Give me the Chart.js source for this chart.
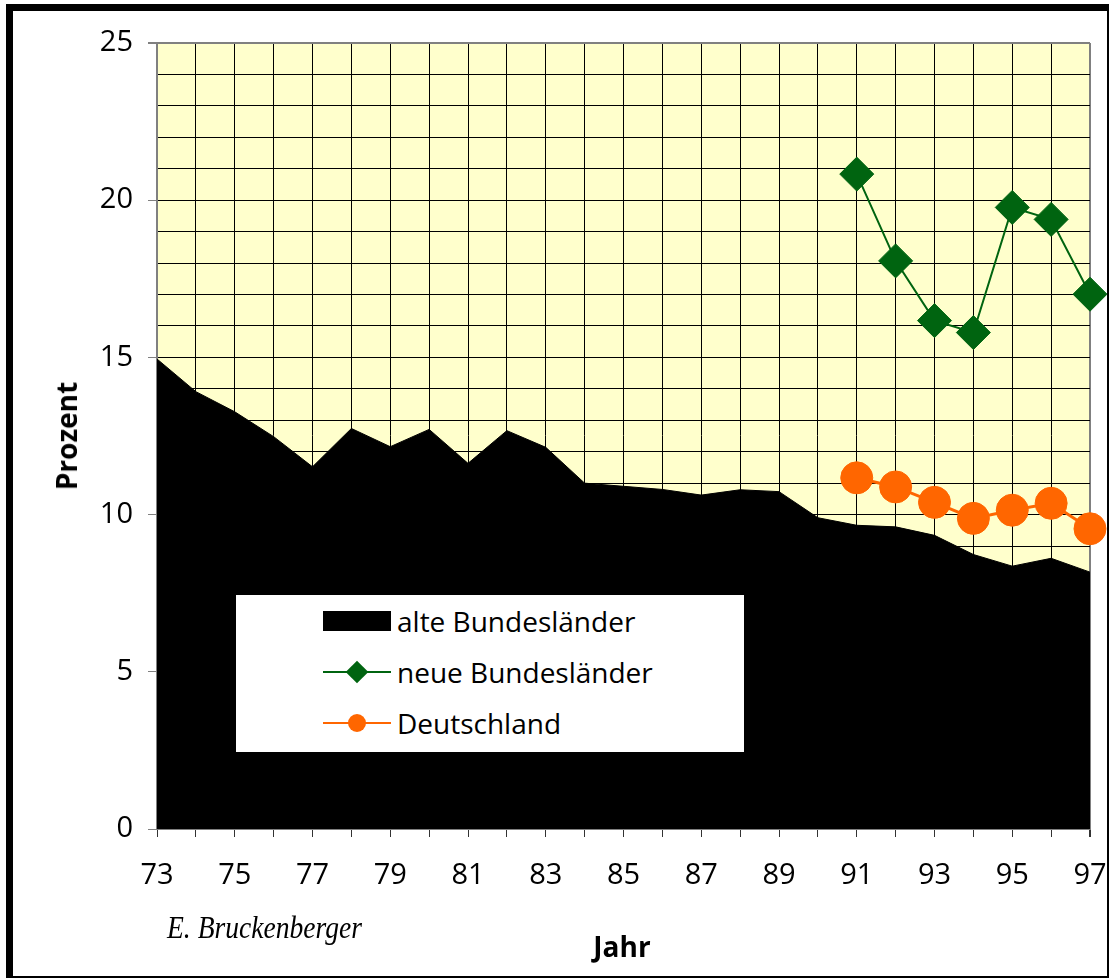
<!DOCTYPE html>
<html>
<head>
<meta charset="utf-8">
<script src="https://cdn.jsdelivr.net/npm/chart.js@4.4.1/dist/chart.umd.min.js"></script>
<style>
html,body{margin:0;padding:0;background:#fff;}
#wrap{position:relative;width:1117px;height:980px;overflow:hidden;font-family:"Open Sans",sans-serif;}
#cbox{position:absolute;left:0;top:0;width:1117px;height:980px;}
#frame{position:absolute;left:6px;top:4px;width:1094px;height:965px;border-left:7px solid #000;border-top:7px solid #000;border-right:2px solid #000;border-bottom:2px solid #000;pointer-events:none;}
.lab{position:absolute;white-space:nowrap;color:#000;line-height:normal;}
#ylab{left:66px;top:436px;font-weight:bold;font-size:28px;transform:translate(-50%,-50%) rotate(-90deg);}
#xlab{left:622px;top:927px;font-weight:bold;font-size:28px;transform:translateX(-50%);}
#author{left:167px;top:910px;font-family:"Liberation Serif",serif;font-style:italic;font-size:31px;transform:scaleX(0.89);transform-origin:0 0;}
#legend{position:absolute;left:236px;top:595px;width:508px;height:157px;background:#fff;}
.row{position:absolute;left:0;height:34px;width:508px;}
.mk{position:absolute;left:87px;top:0;width:68px;height:34px;}
.txt{position:absolute;left:161px;top:0;height:34px;line-height:34px;font-size:28px;color:#000;white-space:nowrap;}
</style>
</head>
<body>
<div id="wrap">
  <div id="cbox"><canvas id="c"></canvas></div>
  <div id="legend"></div>
  <div class="lab" id="ylab">Prozent</div>
  <div class="lab" id="xlab">Jahr</div>
  <div class="lab" id="author">E. Bruckenberger</div>
  <div id="frame"></div>
</div>
<script>
// ---- data ----
const years = ['73','74','75','76','77','78','79','80','81','82','83','84','85','86','87','88','89','90','91','92','93','94','95','96','97'];
const alteBundeslaender = [14.95, 13.91, 13.27, 12.48, 11.52, 12.74, 12.16, 12.71, 11.63, 12.67, 12.14, 11.0, 10.9, 10.8, 10.62, 10.79, 10.73, 9.9, 9.66, 9.61, 9.34, 8.73, 8.36, 8.61, 8.17];
const ostJahre = ['91','92','93','94','95','96','97'];
const neueBundeslaender = [20.83, 18.07, 16.17, 15.79, 19.77, 19.39, 17.01];
const deutschland = [11.17, 10.88, 10.39, 9.88, 10.14, 10.36, 9.55];
const seriesNames = ['alte Bundesländer', 'neue Bundesländer', 'Deutschland'];
const yLabelStep = 5;

const GREEN = '#006410';
const ORANGE = '#FF6600';

const plotBg = {
  id: 'plotBg',
  beforeDraw(chart) {
    const {ctx, chartArea: a} = chart;
    ctx.save();
    ctx.fillStyle = '#FFFFCC';
    ctx.fillRect(a.left, a.top, a.right - a.left, a.bottom - a.top);
    ctx.restore();
  }
};

const chart = new Chart(document.getElementById('c'), {
  type: 'line',
  data: {
    labels: years,
    datasets: [
      {
        label: seriesNames[0],
        data: alteBundeslaender,
        fill: 'origin',
        backgroundColor: '#000000',
        borderColor: '#000000',
        borderWidth: 1,
        pointRadius: 0,
        tension: 0,
        order: 3
      },
      {
        label: seriesNames[1],
        data: ostJahre.map((j, i) => ({x: j, y: neueBundeslaender[i]})),
        borderColor: GREEN,
        backgroundColor: GREEN,
        borderWidth: 2,
        pointStyle: 'rectRot',
        pointRadius: 17,
        pointBorderWidth: 1,
        pointBackgroundColor: GREEN,
        pointBorderColor: GREEN,
        fill: false,
        tension: 0,
        clip: false,
        order: 2
      },
      {
        label: seriesNames[2],
        data: ostJahre.map((j, i) => ({x: j, y: deutschland[i]})),
        borderColor: ORANGE,
        backgroundColor: ORANGE,
        borderWidth: 3,
        pointStyle: 'circle',
        pointRadius: 16,
        pointBorderWidth: 1,
        pointBackgroundColor: ORANGE,
        pointBorderColor: ORANGE,
        fill: false,
        tension: 0,
        clip: false,
        order: 1
      }
    ]
  },
  options: {
    responsive: true,
    maintainAspectRatio: false,
    animation: false,
    events: [],
    layout: {padding: {left: 0, top: 43, right: 27, bottom: 0}},
    plugins: {legend: {display: false}, tooltip: {enabled: false}, title: {display: false}},
    scales: {
      x: {
        type: 'category',
        offset: false,
        afterFit(s) { s.height = 151; s.paddingLeft = 0; s.paddingRight = 0; },
        grid: {
          color: c => (c.index === 0 || c.index === years.length - 1) ? '#808080' : '#000000',
          lineWidth: c => (c.index === years.length - 1) ? 2 : 1,
          tickColor: '#333333',
          tickLength: 8,
          drawTicks: true
        },
        border: {display: true, color: '#808080', width: 2},
        ticks: {
          autoSkip: false,
          maxRotation: 0,
          minRotation: 0,
          padding: 21,
          color: '#000',
          font: {family: '"Open Sans", sans-serif', size: 29},
          callback: (v, i) => (i % 2 === 0 ? years[i] : '')
        }
      },
      y: {
        min: 0,
        max: 25,
        afterFit(s) { s.width = 157; s.paddingTop = 0; s.paddingBottom = 0; },
        grid: {
          color: c => (c.tick && c.tick.value === 25) ? '#808080' : '#000000',
          lineWidth: c => (c.tick && c.tick.value === 25) ? 2 : 1,
          tickColor: c => (c.tick && c.tick.value % yLabelStep === 0) ? '#808080' : 'rgba(0,0,0,0)',
          tickLength: 9,
          drawTicks: true
        },
        border: {display: true, color: '#808080', width: 2},
        ticks: {
          stepSize: 1,
          autoSkip: false,
          padding: 15,
          color: '#000',
          font: {family: '"Open Sans", sans-serif', size: 29},
          callback: v => (v % yLabelStep === 0 ? String(v) : '')
        }
      }
    }
  },
  plugins: [plotBg]
});

// ---- HTML legend built from the chart datasets ----
(function buildLegend() {
  const lg = document.getElementById('legend');
  const rowCenters = [26, 77, 128];
  chart.data.datasets.forEach((ds, i) => {
    const row = document.createElement('div');
    row.className = 'row';
    row.style.top = (rowCenters[i] - 17) + 'px';
    const mk = document.createElement('div');
    mk.className = 'mk';
    if (i === 0) {
      mk.innerHTML = '<div style="position:absolute;left:0;top:7px;width:68px;height:20px;background:' + ds.backgroundColor + '"></div>';
    } else {
      let m = '<div style="position:absolute;left:0;top:16px;width:68px;height:2px;background:' + ds.borderColor + '"></div>';
      if (ds.pointStyle === 'rectRot') {
        m += '<div style="position:absolute;left:26px;top:9px;width:16px;height:16px;background:' + ds.pointBackgroundColor + ';transform:rotate(45deg)"></div>';
      } else {
        m += '<div style="position:absolute;left:25px;top:8px;width:18px;height:18px;border-radius:50%;background:' + ds.pointBackgroundColor + '"></div>';
      }
      mk.innerHTML = m;
    }
    const tx = document.createElement('div');
    tx.className = 'txt';
    tx.textContent = ds.label;
    row.appendChild(mk);
    row.appendChild(tx);
    lg.appendChild(row);
  });
})();
</script>
</body>
</html>
